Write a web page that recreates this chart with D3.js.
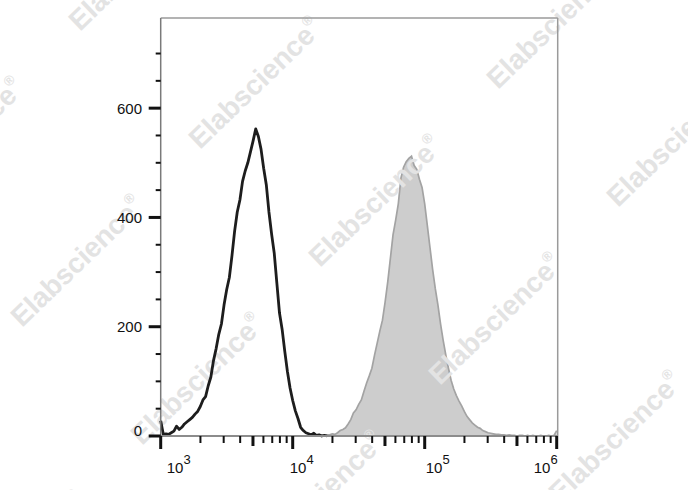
<!DOCTYPE html>
<html><head><meta charset="utf-8">
<script src="https://cdn.jsdelivr.net/npm/d3@7/dist/d3.min.js"></script>
<style>html,body{margin:0;padding:0;background:#fff}svg{display:block}</style>
</head><body>
<svg id="c" width="688" height="490"></svg>
<script>
// channel positions (log10 of fluorescence intensity), 0.02 decade bins
const logChannels = d3.range(0, 151).map(i => 3 + i * 0.02);

// isotype control (black outline)
const controlCounts = [
  28,3,4,3,6,9,18,12,16,22,
  26,30,34,40,45,54,66,72,92,108,
  138,160,186,205,240,268,290,330,375,410,
  432,466,485,500,520,540,562,548,525,490,
  460,410,370,335,280,225,195,155,118,88,
  65,46,32,16,10,6,4,2,5,1,
  2,0,1,0,0,0,0,0,0,0,
  0,0,0,0,0,0,0,0,0,0, 0,0,0,0,0,0,0,0,0,0,
  0,0,0,0,0,0,0,0,0,0, 0,0,0,0,0,0,0,0,0,0,
  0,0,0,0,0,0,0,0,0,0, 0,0,0,0,0,0,0,0,0,0,
  0,0,0,0,0,0,0,0,0,0, 0,0,0,0,0,0,0,0,0,0,
  0
];

// stained sample (grey filled)
const stainedCounts = [
  0,0,0,0,0,0,0,0,0,0, 0,0,0,0,0,0,0,0,0,0,
  0,0,0,0,0,0,0,0,0,0, 0,0,0,0,0,0,0,0,0,0,
  0,0,0,0,0,0,0,0,0,0, 0,0,0,0,0,
  0,0,0,1,0,
  1,2,1,2,2,4,3,6,10,12,
  15,22,30,42,48,58,66,82,97,110,
  124,148,170,192,212,245,282,325,368,395,
  425,472,492,502,508,512,495,488,470,455,
  425,385,345,305,270,240,205,175,148,124,
  102,86,74,64,55,45,36,30,24,20,
  16,14,10,8,6,5,4,3,3,2,
  2,1,2,1,1,0,1,1,0,1,
  0,1,0,0,1,0,0,1,0,1,
  10
];

const yTicks = [0,50,100,150,200,250,300,350,400,450,500,550,600,650,700];
const yLabels = [0,200,400,600];
const xDecades = [1e3,1e4,1e5,1e6];
const xExponents = ["3","4","5","6"];

const svg = d3.select("#c");
const L = 160.7, R = 556.7, T = 18, B = 436;
const x = d3.scaleLog().domain([1e3,1e6]).range([L,R]);
const y = d3.scaleLinear().domain([0,765]).range([B,T]);

function series(counts){
  const pts = logChannels.map((l,i)=>({x:Math.pow(10,l), v:counts[i]}));
  let a = counts.findIndex(v=>v>0), b = counts.length-1;
  while(b>0 && counts[b]===0) b--;
  return pts.slice(Math.max(0,a-1), Math.min(pts.length,b+2));
}

const stained = series(stainedCounts);
const control = series(controlCounts);

// grey filled histogram
svg.append("path")
  .attr("d", d3.area().x(d=>x(d.x)).y0(y(0)).y1(d=>y(d.v))(stained))
  .attr("fill","#cdcdcd");
svg.append("path")
  .attr("d", d3.line().x(d=>x(d.x)).y(d=>y(d.v))(stained))
  .attr("fill","none").attr("stroke","#a3a3a3").attr("stroke-width",1.7);

// watermark
const wm = svg.append("g");
const ax = [120,118], bx = [298,-60];
for(let i=-3;i<=4;i++){
  for(let j=-2;j<=2;j++){
    const px = 200 + i*ax[0] + j*bx[0];
    const py = 150 + i*ax[1] + j*bx[1];
    if(px < -200 || px > 720 || py < -60 || py > 660) continue;
    const t = wm.append("text")
      .attr("transform",`translate(${px},${py}) rotate(-44)`)
      .attr("font-family","Liberation Sans, Arial, sans-serif")
      .attr("font-weight","bold")
      .attr("font-size",28)
      .attr("fill","#e3e3e3");
    t.append("tspan").text("Elabscience");
    t.append("tspan").attr("font-size",14).attr("dy",-14).text("®");
  }
}

// black control line
svg.append("path")
  .attr("d", d3.line().x(d=>x(d.x)).y(d=>y(d.v))(control))
  .attr("fill","none").attr("stroke","#1d1d1d").attr("stroke-width",2.8)
  .attr("stroke-linejoin","round");

// frame
svg.append("line").attr("x1",L).attr("x2",R+1).attr("y1",T).attr("y2",T).attr("stroke","#9a9a9a").attr("stroke-width",1.5);
svg.append("line").attr("x1",R+1).attr("x2",R+1).attr("y1",T).attr("y2",B).attr("stroke","#9a9a9a").attr("stroke-width",1.5);
svg.append("line").attr("x1",L).attr("x2",L).attr("y1",T).attr("y2",B).attr("stroke","#7a7a7a").attr("stroke-width",1.5);
svg.append("line").attr("x1",L).attr("x2",R+1).attr("y1",B).attr("y2",B).attr("stroke","#8c8c8c").attr("stroke-width",2);

// y ticks
const gy = svg.append("g");
yTicks.forEach(v=>{
  const major = yLabels.includes(v);
  gy.append("line").attr("x1", major? L-12 : L-5).attr("x2",L)
    .attr("y1",y(v)).attr("y2",y(v))
    .attr("stroke","#111").attr("stroke-width", major?3:2);
});
yLabels.forEach(v=>{
  gy.append("text").attr("x",142).attr("y",y(v) + (v===0?-5:0)).attr("dy","0.36em")
    .attr("text-anchor","end").attr("font-family","Liberation Sans, Arial, sans-serif")
    .attr("font-size",15).attr("fill","#111").text(v);
});

// x ticks
const gx = svg.append("g");
xDecades.forEach((d,k)=>{
  gx.append("line").attr("x1",x(d)).attr("x2",x(d)).attr("y1",B).attr("y2",B+13)
    .attr("stroke","#111").attr("stroke-width",3);
  if(k<xDecades.length-1){
    for(let m=2;m<=9;m++){
      const xv = x(d*m);
      gx.append("line").attr("x1",xv).attr("x2",xv).attr("y1",B).attr("y2",B+(m===5?10:7))
        .attr("stroke","#111").attr("stroke-width",m===5?3:2);
    }
  }
});
const labelDx = [6,-3,1,-23];
xDecades.forEach((d,k)=>{
  const t = gx.append("text").attr("x",x(d)+labelDx[k]).attr("y",473)
    .attr("font-family","Liberation Sans, Arial, sans-serif").attr("font-size",15).attr("fill","#111");
  t.append("tspan").text("10");
  t.append("tspan").attr("font-size",13).attr("dy",-9).text(xExponents[k]);
});
</script>
</body></html>
